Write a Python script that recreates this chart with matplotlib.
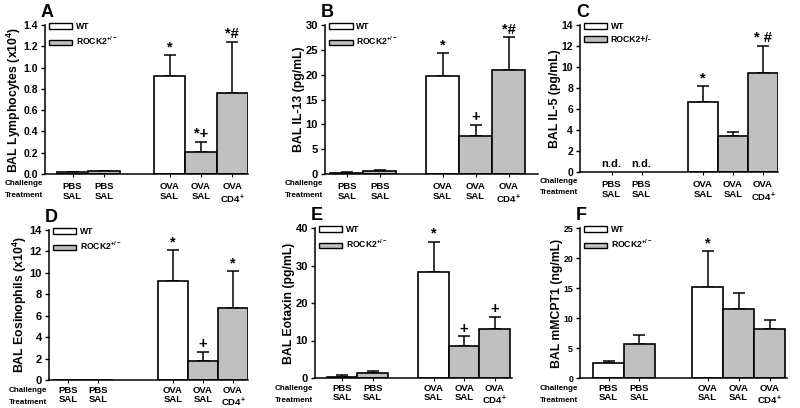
import numpy as np
import matplotlib.pyplot as plt

plt.rcParams['font.family'] = ['Liberation Sans', 'DejaVu Sans']
plt.rcParams['font.weight'] = 'bold'
plt.rcParams['mathtext.fontset'] = 'custom'
plt.rcParams['mathtext.rm'] = 'Liberation Sans:bold'
plt.rcParams['mathtext.default'] = 'rm'

# groups: PBS/SAL WT, PBS/SAL ROCK2, OVA/SAL WT, OVA/SAL ROCK2, OVA/CD4+ ROCK2
cat_labels = ['PBS\nSAL', 'PBS\nSAL', 'OVA\nSAL', 'OVA\nSAL', 'OVA\nCD4$^{+}$']
genotype = ['WT', 'ROCK2', 'WT', 'ROCK2', 'ROCK2']

lymph_mean = [0.015, 0.025, 0.92, 0.21, 0.76]
lymph_err = [0.005, 0.006, 0.20, 0.09, 0.48]
lymph_sig = ['', '', '*', '*+', '*#']

il13_mean = [0.3, 0.7, 19.8, 7.7, 21.0]
il13_err = [0.15, 0.15, 4.6, 2.2, 6.5]
il13_sig = ['', '', '*', '+', '*#']

il5_mean = [None, None, 6.7, 3.45, 9.4]
il5_err = [None, None, 1.5, 0.35, 2.6]
il5_sig = ['n.d.', 'n.d.', '*', '', '* #']

eos_mean = [0.0, 0.0, 9.25, 1.75, 6.75]
eos_err = [0.0, 0.0, 2.85, 0.85, 3.4]
eos_sig = ['', '', '*', '+', '*']

eot_mean = [0.4, 1.3, 28.4, 8.5, 13.1]
eot_err = [0.3, 0.7, 8.0, 2.6, 3.3]
eot_sig = ['', '', '*', '+', '+']

mcpt_mean = [2.5, 5.6, 15.2, 11.5, 8.1]
mcpt_err = [0.4, 1.5, 5.9, 2.6, 1.6]
mcpt_sig = ['', '', '*', '', '']

W, H = 800, 408
fig = plt.figure(figsize=(8, 4.08), dpi=100)

colors = {'WT': 'white', 'ROCK2': '#c0c0c0'}


def panel(letter, rect, gap, xlim, mean, err, sig, ylim, yticks, ylabel,
          rock_label='ROCK2$^{+/-}$', tick_fs=7.5, fmt='{:g}', xpad=4, tpad=6):
    left, right, top, bottom = rect
    ax = fig.add_axes([left / W, 1 - bottom / H, (right - left) / W, (bottom - top) / H])
    pos = [0, 1, 1 + gap, 2 + gap, 3 + gap]
    for i in range(5):
        if mean[i] is None:
            continue
        ax.bar(pos[i], mean[i], width=1.0, color=colors[genotype[i]],
               edgecolor='black', linewidth=1.2, zorder=2)
        if err[i] > 0:
            ax.errorbar(pos[i], mean[i], yerr=[[0], [err[i]]], fmt='none',
                        ecolor='black', elinewidth=1.1, capsize=4, capthick=1.1, zorder=1)
    rng = ylim[1] - ylim[0]
    for i in range(5):
        if not sig[i]:
            continue
        if sig[i] == 'n.d.':
            ax.text(pos[i], rng * 0.02, 'n.d.', ha='center', va='bottom', fontsize=8)
        else:
            top_v = mean[i] + err[i]
            ax.text(pos[i], top_v + rng * 0.005, sig[i], ha='center', va='bottom',
                    fontsize=10.5, fontweight='bold')
    ax.set_xlim(*xlim)
    ax.set_ylim(*ylim)
    ax.set_yticks(yticks)
    ax.set_yticklabels([fmt.format(t) for t in yticks], fontsize=tick_fs, fontweight='bold')
    ax.set_xticks(pos)
    ax.set_xticklabels(cat_labels, fontsize=6.8, fontweight='bold', linespacing=1.1)
    ax.tick_params(axis='x', length=2, width=0.8, pad=xpad)
    ax.tick_params(axis='y', length=3, width=1.0, pad=2)
    for s in ['top', 'right']:
        ax.spines[s].set_visible(False)
    for s in ['left', 'bottom']:
        ax.spines[s].set_linewidth(1.1)
    ax.set_ylabel(ylabel, fontsize=8.8, fontweight='bold', labelpad=0.5)
    ty = -tpad / (bottom - top)
    ax.text(-0.01, ty, 'Challenge', transform=ax.transAxes, ha='right', va='top',
            fontsize=5.8, fontweight='bold')
    ax.text(-0.01, ty - 0.078, 'Treatment', transform=ax.transAxes, ha='right', va='top',
            fontsize=5.8, fontweight='bold')
    ax.text(-0.02, 1.03, letter, transform=ax.transAxes, ha='left', va='bottom',
            fontsize=13, fontweight='bold')
    handles = [plt.Rectangle((0, 0), 1, 1, facecolor='white', edgecolor='black', linewidth=1.0),
               plt.Rectangle((0, 0), 1, 1, facecolor='#c0c0c0', edgecolor='black', linewidth=1.0)]
    ax.legend(handles, ['WT', rock_label], loc='upper left', bbox_to_anchor=(0.02, 1.02),
              frameon=False, fontsize=6.2, handlelength=2.7, handleheight=0.6,
              handletextpad=0.4, labelspacing=0.45, borderpad=0, borderaxespad=0)
    return ax


panel('A', (45, 248, 25, 174), 2.1, (-0.88, 5.6), lymph_mean, lymph_err, lymph_sig,
      (0, 1.4), np.arange(0, 1.41, 0.2), 'BAL Lymphocytes (x10$^{4}$)', fmt='{:.1f}')
panel('B', (325, 538, 25, 174), 1.9, (-0.66, 5.79), il13_mean, il13_err, il13_sig,
      (0, 30), np.arange(0, 31, 5), 'BAL IL-13 (pg/mL)', tick_fs=8)
panel('C', (580, 778, 25, 172), 2.05, (-1.05, 5.55), il5_mean, il5_err, il5_sig,
      (0, 14), np.arange(0, 15, 2), 'BAL IL-5 (pg/mL)', rock_label='ROCK2+/-')
panel('D', (49, 248, 230, 380), 2.5, (-0.63, 6.0), eos_mean, eos_err, eos_sig,
      (0, 14), np.arange(0, 15, 2), 'BAL Eosinophils (x10$^{4}$)', tick_fs=8, xpad=2, tpad=7)
panel('E', (315, 512, 228, 378), 2.0, (-0.89, 5.57), eot_mean, eot_err, eot_sig,
      (0, 40), np.arange(0, 41, 10), 'BAL Eotaxin (pg/mL)', tick_fs=8, xpad=2, tpad=7)
panel('F', (580, 787, 228, 378), 2.2, (-0.92, 5.76), mcpt_mean, mcpt_err, mcpt_sig,
      (0, 25), np.arange(0, 26, 5), 'BAL mMCPT1 (ng/mL)', tick_fs=6.3, xpad=2, tpad=7)

fig.savefig('out.png', dpi=100)
